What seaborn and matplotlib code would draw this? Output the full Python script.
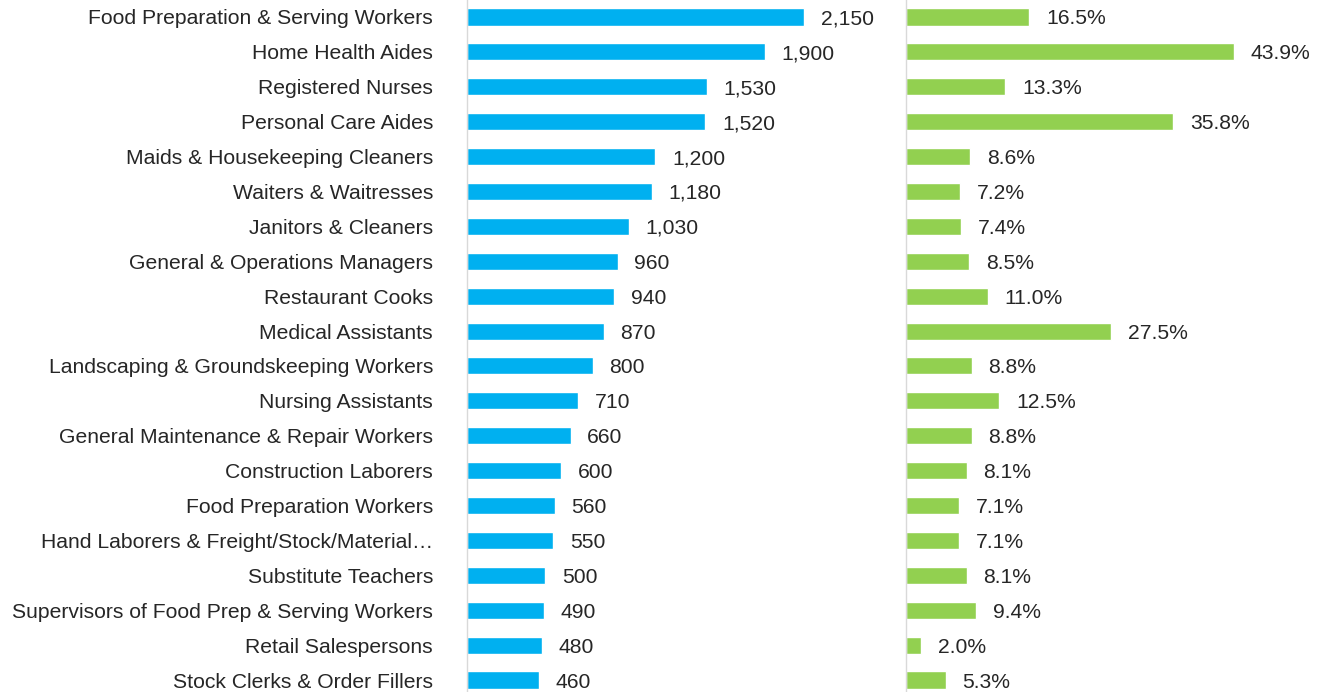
import pandas as pd
import numpy as np

import matplotlib
matplotlib.use("Agg")
import matplotlib.pyplot as plt
import seaborn as sns


occupations = [
    "Food Preparation & Serving Workers",
    "Home Health Aides",
    "Registered Nurses",
    "Personal Care Aides",
    "Maids & Housekeeping Cleaners",
    "Waiters & Waitresses",
    "Janitors & Cleaners",
    "General & Operations Managers",
    "Restaurant Cooks",
    "Medical Assistants",
    "Landscaping & Groundskeeping Workers",
    "Nursing Assistants",
    "General Maintenance & Repair Workers",
    "Construction Laborers",
    "Food Preparation Workers",
    "Hand Laborers & Freight/Stock/Material\u2026",
    "Substitute Teachers",
    "Supervisors of Food Prep & Serving Workers",
    "Retail Salespersons",
    "Stock Clerks & Order Fillers",
]

openings = [2150, 1900, 1530, 1520, 1200, 1180, 1030, 960, 940, 870,
            800, 710, 660, 600, 560, 550, 500, 490, 480, 460]

growth_pct = [16.5, 43.9, 13.3, 35.8, 8.6, 7.2, 7.4, 8.5, 11.0, 27.5,
              8.8, 12.5, 8.8, 8.1, 7.1, 7.1, 8.1, 9.4, 2.0, 5.3]


df = pd.DataFrame({
    "occupation": occupations,
    "openings": openings,
    "growth": growth_pct,
})

sns.set_style("white")
plt.rcParams["font.family"] = ["Liberation Sans", "DejaVu Sans"]
text_color = "#262626"
fs = 15.2

fig = plt.figure(figsize=(13.2, 6.92), dpi=100)

W, H = 1320, 692
y_top = 17 - 34.9 / 2
y_bot = 680 + 34.9 / 2

ax1 = fig.add_axes([467 / W, (H - y_bot) / H, (890 - 467) / W, (y_bot - y_top) / H])
ax2 = fig.add_axes([906 / W, (H - y_bot) / H, (1320 - 906) / W, (y_bot - y_top) / H])

sns.barplot(data=df, y="occupation", x="openings", orient="h",
            color="#00B0F0", saturation=1, width=0.49, ax=ax1)
sns.barplot(data=df, y="occupation", x="growth", orient="h",
            color="#92D050", saturation=1, width=0.49, ax=ax2)

ax1.set_xlim(0, 423 / 0.1569)
ax2.set_xlim(0, 414 / 7.47)

lbl1 = ax1.bar_label(ax1.containers[0], labels=[f"{v:,}" for v in openings],
                     padding=12, fontsize=fs, color=text_color)
lbl2 = ax2.bar_label(ax2.containers[0], labels=[f"{v:.1f}%" for v in growth_pct],
                     padding=12, fontsize=fs, color=text_color)
for t in list(lbl1) + list(lbl2):
    t.set_va("center_baseline")

for ax in (ax1, ax2):
    ax.set_ylim(len(occupations) - 0.5, -0.5)
    ax.set_xlabel("")
    ax.set_ylabel("")
    ax.set_xticks([])
    for side in ("top", "right", "bottom"):
        ax.spines[side].set_visible(False)
    ax.spines["left"].set_color("#D9D9D9")
    ax.spines["left"].set_linewidth(1)
    ax.tick_params(axis="y", length=0)

ax1.tick_params(axis="y", labelsize=fs, labelcolor=text_color, pad=24.5)
ax2.set_yticks([])

fig.savefig("out.png", dpi=100)
